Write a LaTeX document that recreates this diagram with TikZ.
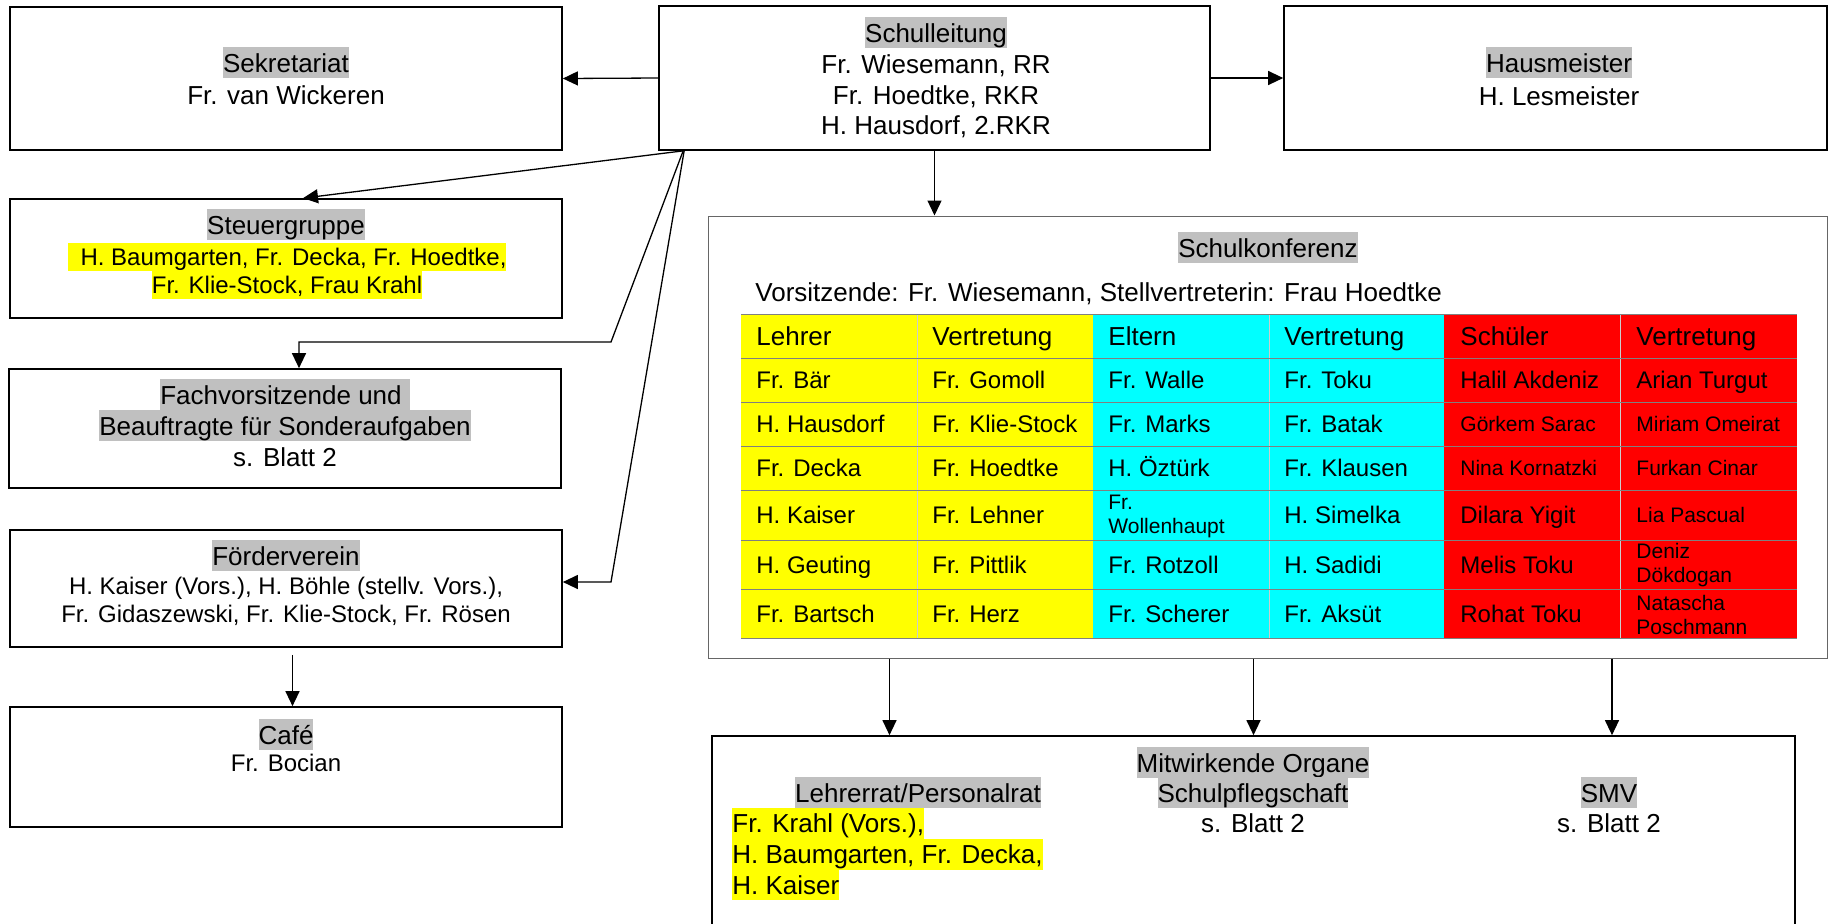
\documentclass[tikz,border=0pt]{standalone}
\usepackage{fontspec}
\setmainfont{Liberation Sans}
\usetikzlibrary{arrows.meta,fit,calc}
\definecolor{hlgray}{HTML}{C0C0C0}
\definecolor{hlyel}{HTML}{FFFF00}
\definecolor{cellyel}{HTML}{FFFF00}
\definecolor{cellcyan}{HTML}{00FFFF}
\definecolor{cellred}{HTML}{FF0000}
\newcommand\hlg[1]{{\setlength{\fboxsep}{0pt}\colorbox{hlgray}{\rule[-3pt]{0pt}{15.5pt}#1}}}
\newcommand\hly[1]{{\setlength{\fboxsep}{0pt}\colorbox{hlyel}{\rule[-3pt]{0pt}{15.5pt}#1}}}
\newcommand\hlyS[1]{{\setlength{\fboxsep}{0pt}\colorbox{hlyel}{\rule[-2.8pt]{0pt}{14pt}#1}}}
\newcommand\tcell[5]{\node[#4,anchor=west] (#1) at ({741+(#2-1)*176+15},#3) {#5};}
\begin{document}
\begin{tikzpicture}[x=0.5pt,y=-0.5pt,
  box/.style={draw=black,line width=0.85pt,inner sep=0pt},
  tA/.style={inner sep=0pt,font=\fontsize{13}{15}\selectfont,text height=9.3pt,text depth=0pt},
  tB/.style={inner sep=0pt,font=\fontsize{12}{14}\selectfont,text height=8.6pt,text depth=0pt},
  tC/.style={inner sep=0pt,font=\fontsize{10.5}{12.5}\selectfont,text height=7.5pt,text depth=0pt},
  tD/.style={inner sep=0pt,font=\fontsize{10.5}{12}\selectfont,align=left},
  con/.style={line width=0.65pt,-{Triangle[length=7.5pt,width=7pt]}},
  hgrid/.style={draw=black!50,line width=0.4pt},
  vgrid/.style={draw=black!20,line width=0.3pt},
]
\useasboundingbox (0,0) rectangle (1830,923);
\fill[white] (0,0) rectangle (1830,923);
\begin{scope}
\clip (0,0) rectangle (1830,923);
% boxes
\node[box,fit={(10,7)(562,150)}] (sek) {};
\node[box,fit={(659,6)(1210,150)}] (sl) {};
\node[box,fit={(1284,6)(1827,150)}] (hm) {};
\node[box,fit={(10,199)(562,318)}] (stg) {};
\node[box,fit={(9,369)(561,488)}] (fach) {};
\node[box,fit={(10,530)(562,647)}] (fv) {};
\node[box,fit={(10,707)(562,827)}] (cafe) {};
\node[draw=black!60,line width=0.5pt,inner sep=0pt,fit={(708,216)(1827,658)}] (sk) {};
\node[box,fit={(712,736)(1795,960)}] (mo) {};

% table
\fill[cellyel] (741,314) rectangle (1093,638);
\fill[cellcyan] (1093,314) rectangle (1444,638);
\fill[cellred] (1444,314) rectangle (1797,638);
\foreach \xx in {917,1269,1620} \draw[vgrid] (\xx,314) -- (\xx,638);
\foreach \yy in {314,358,402,446,490,540,589,638} \draw[hgrid] (741,\yy) -- (1797,\yy);

% connectors
\coordinate (slo) at ($(sl.south west)+(25,0)$);
\coordinate (slo2) at ($(sl.south west)+(26,0)$);
\coordinate (b1) at (611,342);
\coordinate (b2) at (299,342);
\coordinate (b3) at (611,582);
\draw[con] (sl.west) -- (sek.east);
\draw[con] (sl.east) -- (hm.west);
\draw[con] (slo) -- ($(stg.north)+(17,0)$);
\draw[con] (slo) -- (b1) -- (b2) -- (b2 |- fach.north);
\draw[con] (slo2) -- (b3) -- (b3 -| fv.east);
\draw[con] (sl.south) -- (sl.south |- sk.north);
\draw[con] ($(fv.south)+(6.5,7)$) -- ($(cafe.north)+(6.5,0)$);
\foreach \xx in {889.5,1253.5,1612} \draw[con] (sk.south -| \xx,0) -- (mo.north -| \xx,0);

% texts
\node[tA] (sekT) at (286,63) {\hlg{Sekretariat}};
\node[tA] (sekN) at (286,95) {Fr. van Wickeren};
\node[tA] (slT) at (936,33) {\hlg{Schulleitung}};
\node[tA] (sl1) at (936,64) {Fr. Wiesemann, RR};
\node[tA] (sl2) at (936,95) {Fr. Hoedtke, RKR};
\node[tA] (sl3) at (936,125) {H. Hausdorf, 2.RKR};
\node[tA] (hmT) at (1559,63) {\hlg{Hausmeister}};
\node[tA] (hmN) at (1559,96) {H. Lesmeister};
\node[tA] (stgT) at (286,225) {\hlg{Steuergruppe}};
\node[tB] (stg1) at (287,257) {\hlyS{\hspace{6.5pt}H. Baumgarten, Fr. Decka, Fr. Hoedtke,}};
\node[tB] (stg2) at (287,285) {\hlyS{Fr. Klie-Stock, Frau Krahl}};
\node[tA] (fachT1) at (285,395) {\hlg{Fachvorsitzende und\hspace{4pt}}};
\node[tA] (fachT2) at (285,426) {\hlg{Beauftragte für Sonderaufgaben}};
\node[tA] (fachN) at (285,457) {s. Blatt 2};
\node[tA] (fvT) at (286,556) {\hlg{Förderverein}};
\node[tB] (fv1) at (286,586) {H. Kaiser (Vors.), H. Böhle (stellv. Vors.),};
\node[tB] (fv2) at (286,614) {Fr. Gidaszewski, Fr. Klie-Stock, Fr. Rösen};
\node[tA] (cafeT) at (286,735) {\hlg{Café}};
\node[tB] (cafeN) at (286,763) {Fr. Bocian};
\node[tA] (skT) at (1268,248) {\hlg{Schulkonferenz}};
\node[tA,anchor=west] (skV) at (755,292) {Vorsitzende: Fr. Wiesemann, Stellvertreterin: Frau Hoedtke};

\node[tA] (moT) at (1253,763) {\hlg{Mitwirkende Organe}};
\node[tA] (lrT) at (918,793) {\hlg{Lehrerrat/Personalrat}};
\node[tA] (spT) at (1253,793) {\hlg{Schulpflegschaft}};
\node[tA] (spN) at (1253,823) {s. Blatt 2};
\node[tA] (smvT) at (1609,793) {\hlg{SMV}};
\node[tA] (smvN) at (1609,823) {s. Blatt 2};
\node[tA,anchor=west] (lr1) at (732,823.5) {\hly{Fr. Krahl (Vors.),}};
\node[tA,anchor=west] (lr2) at (732,854.5) {\hly{H. Baumgarten, Fr. Decka,}};
\node[tA,anchor=west] (lr3) at (732,885) {\hly{H. Kaiser}};

% table text
\tcell{h1}{1}{336}{tA}{Lehrer}
\tcell{h2}{2}{336}{tA}{Vertretung}
\tcell{h3}{3}{336}{tA}{Eltern}
\tcell{h4}{4}{336}{tA}{Vertretung}
\tcell{h5}{5}{336}{tA}{Schüler}
\tcell{h6}{6}{336}{tA}{Vertretung}

\tcell{a1}{1}{380}{tB}{Fr. Bär}
\tcell{a2}{2}{380}{tB}{Fr. Gomoll}
\tcell{a3}{3}{380}{tB}{Fr. Walle}
\tcell{a4}{4}{380}{tB}{Fr. Toku}
\tcell{a5}{5}{380}{tB}{Halil Akdeniz}
\tcell{a6}{6}{380}{tB}{Arian Turgut}

\tcell{b1t}{1}{424}{tB}{H. Hausdorf}
\tcell{b2t}{2}{424}{tB}{Fr. Klie-Stock}
\tcell{b3t}{3}{424}{tB}{Fr. Marks}
\tcell{b4t}{4}{424}{tB}{Fr. Batak}
\tcell{b5t}{5}{424}{tC}{Görkem Sarac}
\tcell{b6t}{6}{424}{tC}{Miriam Omeirat}

\tcell{c1}{1}{468}{tB}{Fr. Decka}
\tcell{c2}{2}{468}{tB}{Fr. Hoedtke}
\tcell{c3}{3}{468}{tB}{H. Öztürk}
\tcell{c4}{4}{468}{tB}{Fr. Klausen}
\tcell{c5}{5}{468}{tC}{Nina Kornatzki}
\tcell{c6}{6}{468}{tC}{Furkan Cinar}

\tcell{d1}{1}{515}{tB}{H. Kaiser}
\tcell{d2}{2}{515}{tB}{Fr. Lehner}
\tcell{d3}{3}{516}{tD}{Fr.\\Wollenhaupt}
\tcell{d4}{4}{515}{tB}{H. Simelka}
\tcell{d5}{5}{515}{tB}{Dilara Yigit}
\tcell{d6}{6}{515}{tC}{Lia Pascual}

\tcell{e1}{1}{564.5}{tB}{H. Geuting}
\tcell{e2}{2}{564.5}{tB}{Fr. Pittlik}
\tcell{e3}{3}{564.5}{tB}{Fr. Rotzoll}
\tcell{e4}{4}{564.5}{tB}{H. Sadidi}
\tcell{e5}{5}{564.5}{tB}{Melis Toku}
\tcell{e6}{6}{565.5}{tD}{Deniz\\Dökdogan}

\tcell{f1}{1}{613.5}{tB}{Fr. Bartsch}
\tcell{f2}{2}{613.5}{tB}{Fr. Herz}
\tcell{f3}{3}{613.5}{tB}{Fr. Scherer}
\tcell{f4}{4}{613.5}{tB}{Fr. Aksüt}
\tcell{f5}{5}{613.5}{tB}{Rohat Toku}
\tcell{f6}{6}{614.5}{tD}{Natascha\\Poschmann}
\end{scope}
\end{tikzpicture}
\end{document}
